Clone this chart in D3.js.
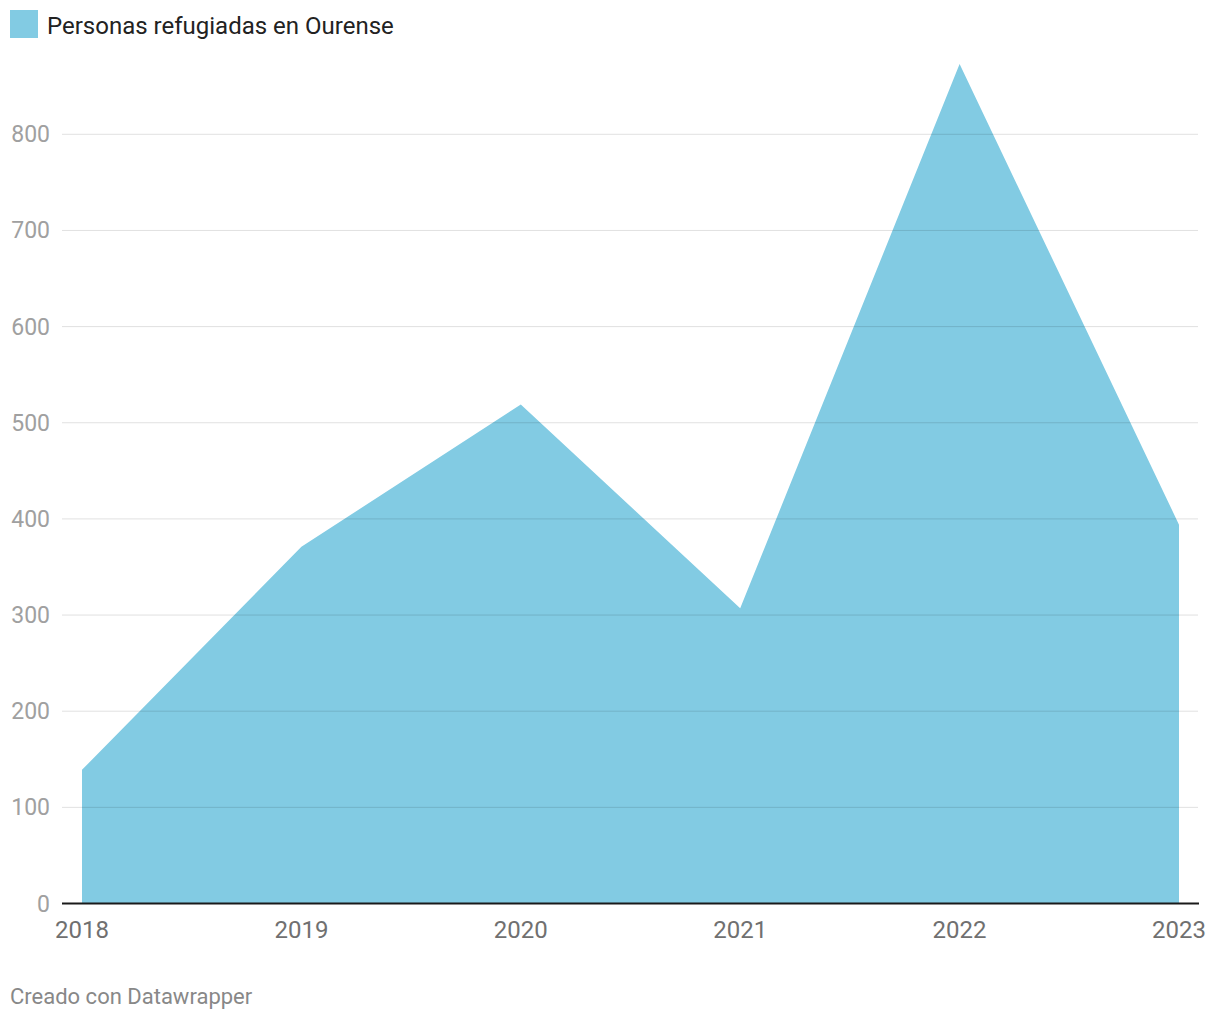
<!doctype html>
<html>
<head>
<meta charset="UTF-8">
<title>Personas refugiadas en Ourense</title>
<script src="https://d3js.org/d3.v7.min.js"></script>
<style>
  body { margin: 0; background: #fff; font-family: Roboto, "Noto Sans", sans-serif; }
</style>
</head>
<body>
<script>
var years = [2018, 2019, 2020, 2021, 2022, 2023];
var refugiados = [139, 371, 519, 307, 873, 394];
var yTicks = [0, 100, 200, 300, 400, 500, 600, 700, 800];
var seriesName = "Personas refugiadas en Ourense";

var w = 1220, h = 1020;
var padL = 82, padR = 1179, plotTop = 134.3, plotBottom = 903.5;

var svg = d3.select("body").append("svg")
    .attr("width", w)
    .attr("height", h);

var x = d3.scaleLinear().domain([2018, 2023]).range([padL, padR]);
var y = d3.scaleLinear().domain([0, 800]).range([plotBottom, plotTop]);

// legend
svg.append("rect").attr("x", 10).attr("y", 10).attr("width", 28).attr("height", 28).attr("fill", "#82cbe3");
svg.append("text").attr("x", 47).attr("y", 34).attr("font-size", 24).attr("fill", "#222")
    .text(seriesName);

// area
var area = d3.area()
    .x(function(d, i){ return x(years[i]); })
    .y0(y(0))
    .y1(function(d){ return y(d); });

svg.append("path").datum(refugiados)
    .attr("d", area)
    .attr("fill", "#82cbe3");

// gridlines on top, slightly transparent
svg.selectAll("line.grid").data(yTicks.filter(function(d){ return d > 0; }))
  .enter().append("line")
    .attr("class", "grid")
    .attr("x1", 62).attr("x2", 1198)
    .attr("y1", function(d){ return y(d); })
    .attr("y2", function(d){ return y(d); })
    .attr("stroke", "#000").attr("stroke-opacity", 0.12).attr("stroke-width", 1);

// y labels
svg.selectAll("text.ylab").data(yTicks)
  .enter().append("text")
    .attr("class", "ylab")
    .attr("x", 50)
    .attr("y", function(d){ return y(d) + 8; })
    .attr("text-anchor", "end")
    .attr("font-size", 23)
    .attr("fill", "#a0a0a0")
    .text(function(d){ return d; });

// baseline
svg.append("line")
    .attr("x1", 62).attr("x2", 1199)
    .attr("y1", y(0)).attr("y2", y(0))
    .attr("stroke", "#1a1a1a").attr("stroke-width", 2);

// x labels
svg.selectAll("text.xlab").data(years)
  .enter().append("text")
    .attr("class", "xlab")
    .attr("x", function(d){ return x(d); })
    .attr("y", 938)
    .attr("text-anchor", "middle")
    .attr("font-size", 24)
    .attr("fill", "#707070")
    .text(function(d){ return d; });

// footer
svg.append("text").attr("x", 10).attr("y", 1004).attr("font-size", 22).attr("fill", "#888")
    .text("Creado con Datawrapper");
</script>
</body>
</html>
